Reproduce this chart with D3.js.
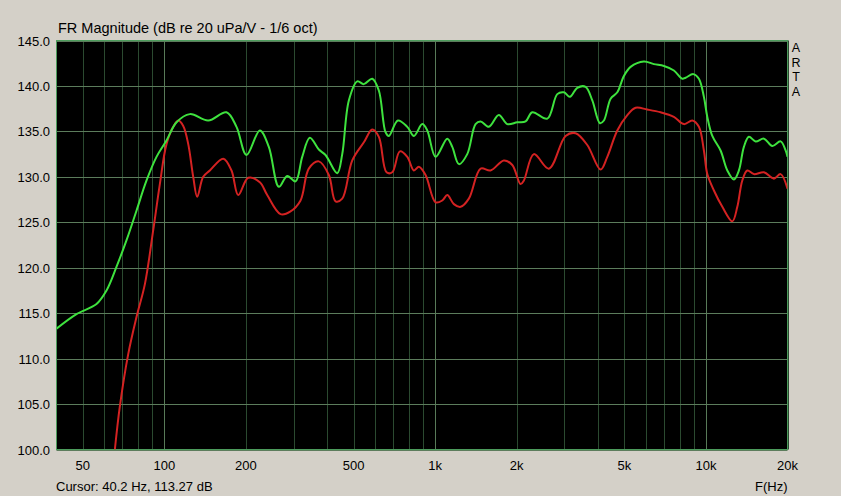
<!DOCTYPE html>
<html>
<head>
<meta charset="utf-8">
<script src="https://cdn.jsdelivr.net/npm/d3@7"></script>
<style>
  html, body { margin: 0; padding: 0; background: #d4d0c8; }
  svg { display: block; font-family: Arial, "Liberation Sans", sans-serif; }
</style>
</head>
<body>
<div id="chart"></div>
<script>
var width = 841, height = 496;
var margin = { left: 56, top: 40, right: 54, bottom: 47 };

// y ticks (dB) and x tick labels (Hz)
var yTicks = [100, 105, 110, 115, 120, 125, 130, 135, 140, 145];
var xLabelFreqs = [50, 100, 200, 500, 1000, 2000, 5000, 10000, 20000];
var xLabelTexts = ["50", "100", "200", "500", "1k", "2k", "5k", "10k", "20k"];
var xGridFreqs = [50, 60, 70, 80, 90, 100, 200, 300, 400, 500, 600, 700, 800, 900,
  1000, 2000, 3000, 4000, 5000, 6000, 7000, 8000, 9000, 10000, 20000];

// upper (green) response
var greenFreq = [40, 47.4, 56.2, 61.2, 66.6, 72.5, 79.0, 86.0, 93.6, 101.9, 111.0, 124.3, 145.3,
  169.7, 184.8, 201.2, 225.3, 243.2, 264.9, 284.4, 305.2, 323.1, 344.7, 372.1, 393.9, 435.1,
  454.0, 480.2, 515.9, 545.7, 586.0, 619.8, 656.1, 674.8, 728.5, 789.3, 834.8, 896.6, 935.5,
  1004, 1109, 1157, 1224, 1314, 1410, 1472, 1579, 1719, 1847, 2011, 2158, 2284, 2595, 2825,
  2988, 3145, 3349, 3594, 3805, 4058, 4199, 4446, 4706, 4977, 5268, 5899, 6424, 6994, 7613,
  8178, 8410, 8980, 9417, 9826, 10114, 10553, 11324, 11990, 12683, 13233, 13806, 14405,
  15250, 16370, 17580, 18862, 19683, 20000];
var greenDb = [113.3, 114.9, 116.0, 117.5, 120.1, 123.0, 126.3, 129.6, 132.2, 134.0, 136.0, 136.9, 136.2,
  137.1, 135.5, 132.4, 135.1, 133.3, 128.9, 130.1, 129.5, 132.2, 134.3, 133.0, 132.4, 130.4,
  132.5, 138.4, 140.5, 140.2, 140.8, 139.5, 134.9, 134.5, 136.2, 135.5, 134.5, 135.8, 135.1,
  132.2, 134.2, 133.3, 131.4, 132.5, 135.8, 136.1, 135.5, 136.8, 135.8, 136.0, 136.1, 137.1, 136.4, 139.1,
  139.3, 138.8, 139.8, 139.9, 138.4, 135.9, 136.2, 138.6, 139.3, 141.1, 142.1, 142.7, 142.4, 142.2, 141.7,
  140.8, 140.9, 141.3, 140.8, 138.8, 136.6, 134.5, 132.9, 130.7, 129.7, 130.7, 133.3, 134.4,
  133.9, 134.2, 133.4, 133.9, 132.9, 132.2];

// lower (red) response
var redFreq = [65.7, 68.5, 73.6, 79.0, 84.8, 91.0, 96.3, 101.9, 107.9, 112.6, 117.5, 122.6, 127.9,
  132.3, 139.2, 147.3, 165.1, 177.1, 187.5, 204.2, 225.3, 239.9, 268.7, 292.5, 318.5, 341.7,
  372.1, 405.1, 428.9, 454.0, 494.4, 545.7, 586.0, 619.8, 661.6, 694.6, 741.0, 789.3, 834.8,
  871.0, 921.8, 1004, 1063, 1109, 1173, 1242, 1332, 1472, 1602, 1794, 1927, 2068, 2127, 2315,
  2630, 3032, 3301, 3646, 4082, 4322, 4706, 5124, 5498, 6073, 6800, 7613, 8291, 8905, 9417,
  9826, 10114, 10700, 11493, 12512, 13054, 13621, 14212, 15030, 16370, 17817, 18862, 20000];
var redDb = [100.0, 104.7, 110.5, 114.6, 118.2, 124.1, 129.2, 133.6, 135.5, 136.2, 135.6, 133.6, 130.0,
  127.8, 130.0, 130.7, 132.0, 130.7, 128.0, 129.9, 129.4, 128.0, 125.9, 126.2, 127.4, 130.9,
  131.7, 130.2, 127.3, 127.6, 131.8, 133.8, 135.2, 134.4, 130.5, 130.5, 132.8, 132.2, 130.7,
  131.1, 130.2, 127.2, 127.4, 128.0, 127.0, 126.7, 127.6, 130.9, 130.7, 131.8, 131.3, 129.2, 129.6, 132.5,
  130.9, 134.5, 134.8, 133.5, 130.8, 132.2, 135.1, 136.8, 137.6, 137.4, 137.1, 136.6, 135.8, 136.2, 135.5,
  132.9, 130.3, 128.5, 126.7, 125.1, 126.7, 129.6, 130.7, 130.3, 130.5, 129.8, 130.3, 128.7];

var x = d3.scaleLog().domain([40, 20000]).range([margin.left + 0.5, width - margin.right + 0.5]);
var y = d3.scaleLinear().domain([100, 145]).range([height - margin.bottom + 0.5, margin.top + 0.5]);

var svg = d3.select("#chart").append("svg")
  .attr("width", width)
  .attr("height", height);

svg.append("rect").attr("width", width).attr("height", height).attr("fill", "#d4d0c8");

svg.append("rect")
  .attr("x", x(40)).attr("y", y(145))
  .attr("width", x(20000) - x(40)).attr("height", y(100) - y(145))
  .attr("fill", "#000");

svg.append("clipPath").attr("id", "plot")
  .append("rect")
  .attr("x", x(40)).attr("y", y(145))
  .attr("width", x(20000) - x(40)).attr("height", y(100) - y(145));

// vertical grid
svg.append("g").selectAll("line")
  .data(xGridFreqs)
  .enter().append("line")
  .attr("x1", d => Math.round(x(d)) + 0.5).attr("x2", d => Math.round(x(d)) + 0.5)
  .attr("y1", y(145)).attr("y2", y(100))
  .attr("stroke", d => (d === 100 || d === 1000 || d === 10000) ? "#587a58" : "#2b4a30")
  .attr("stroke-width", 1);

// horizontal grid
svg.append("g").selectAll("line")
  .data(yTicks)
  .enter().append("line")
  .attr("x1", x(40)).attr("x2", x(20000))
  .attr("y1", d => Math.round(y(d)) + 0.5).attr("y2", d => Math.round(y(d)) + 0.5)
  .attr("stroke", "#5c7c5c")
  .attr("stroke-width", 1);

// border
svg.append("rect")
  .attr("x", x(40)).attr("y", y(145))
  .attr("width", x(20000) - x(40)).attr("height", y(100) - y(145))
  .attr("fill", "none").attr("stroke", "#4c9c5c").attr("stroke-width", 1);

var line = d3.line()
  .x(d => x(d[0]))
  .y(d => y(d[1]))
  .curve(d3.curveCatmullRom.alpha(0.5));

var curves = svg.append("g").attr("clip-path", "url(#plot)");

curves.append("path")
  .datum(d3.zip(redFreq, redDb))
  .attr("d", line)
  .attr("fill", "none")
  .attr("stroke", "#d42222")
  .attr("stroke-width", 2);

curves.append("path")
  .datum(d3.zip(greenFreq, greenDb))
  .attr("d", line)
  .attr("fill", "none")
  .attr("stroke", "#3ee23e")
  .attr("stroke-width", 2);

// y labels
svg.append("g").selectAll("text")
  .data(yTicks)
  .enter().append("text")
  .attr("x", 50)
  .attr("y", d => y(d) + 5)
  .attr("text-anchor", "end")
  .attr("font-size", 13)
  .attr("fill", "#000")
  .text(d => d.toFixed(1));

// x labels
svg.append("g").selectAll("text")
  .data(xLabelFreqs)
  .enter().append("text")
  .attr("x", d => x(d))
  .attr("y", 470)
  .attr("text-anchor", "middle")
  .attr("font-size", 13)
  .attr("fill", "#000")
  .text((d, i) => xLabelTexts[i]);

svg.append("text")
  .attr("x", 58).attr("y", 33)
  .attr("font-size", 14.5)
  .attr("fill", "#000")
  .text("FR Magnitude (dB re 20 uPa/V - 1/6 oct)");

svg.append("text")
  .attr("x", 56).attr("y", 491)
  .attr("font-size", 13)
  .attr("fill", "#000")
  .text("Cursor: 40.2 Hz, 113.27 dB");

svg.append("text")
  .attr("x", 755).attr("y", 491)
  .attr("font-size", 13)
  .attr("fill", "#000")
  .text("F(Hz)");

// vertical "ARTA" stamp
svg.append("g").selectAll("text")
  .data(["A", "R", "T", "A"])
  .enter().append("text")
  .attr("x", 796)
  .attr("y", (d, i) => 52 + i * 14.5)
  .attr("text-anchor", "middle")
  .attr("font-size", 12.5)
  .attr("fill", "#000")
  .text(d => d);
</script>
</body>
</html>
